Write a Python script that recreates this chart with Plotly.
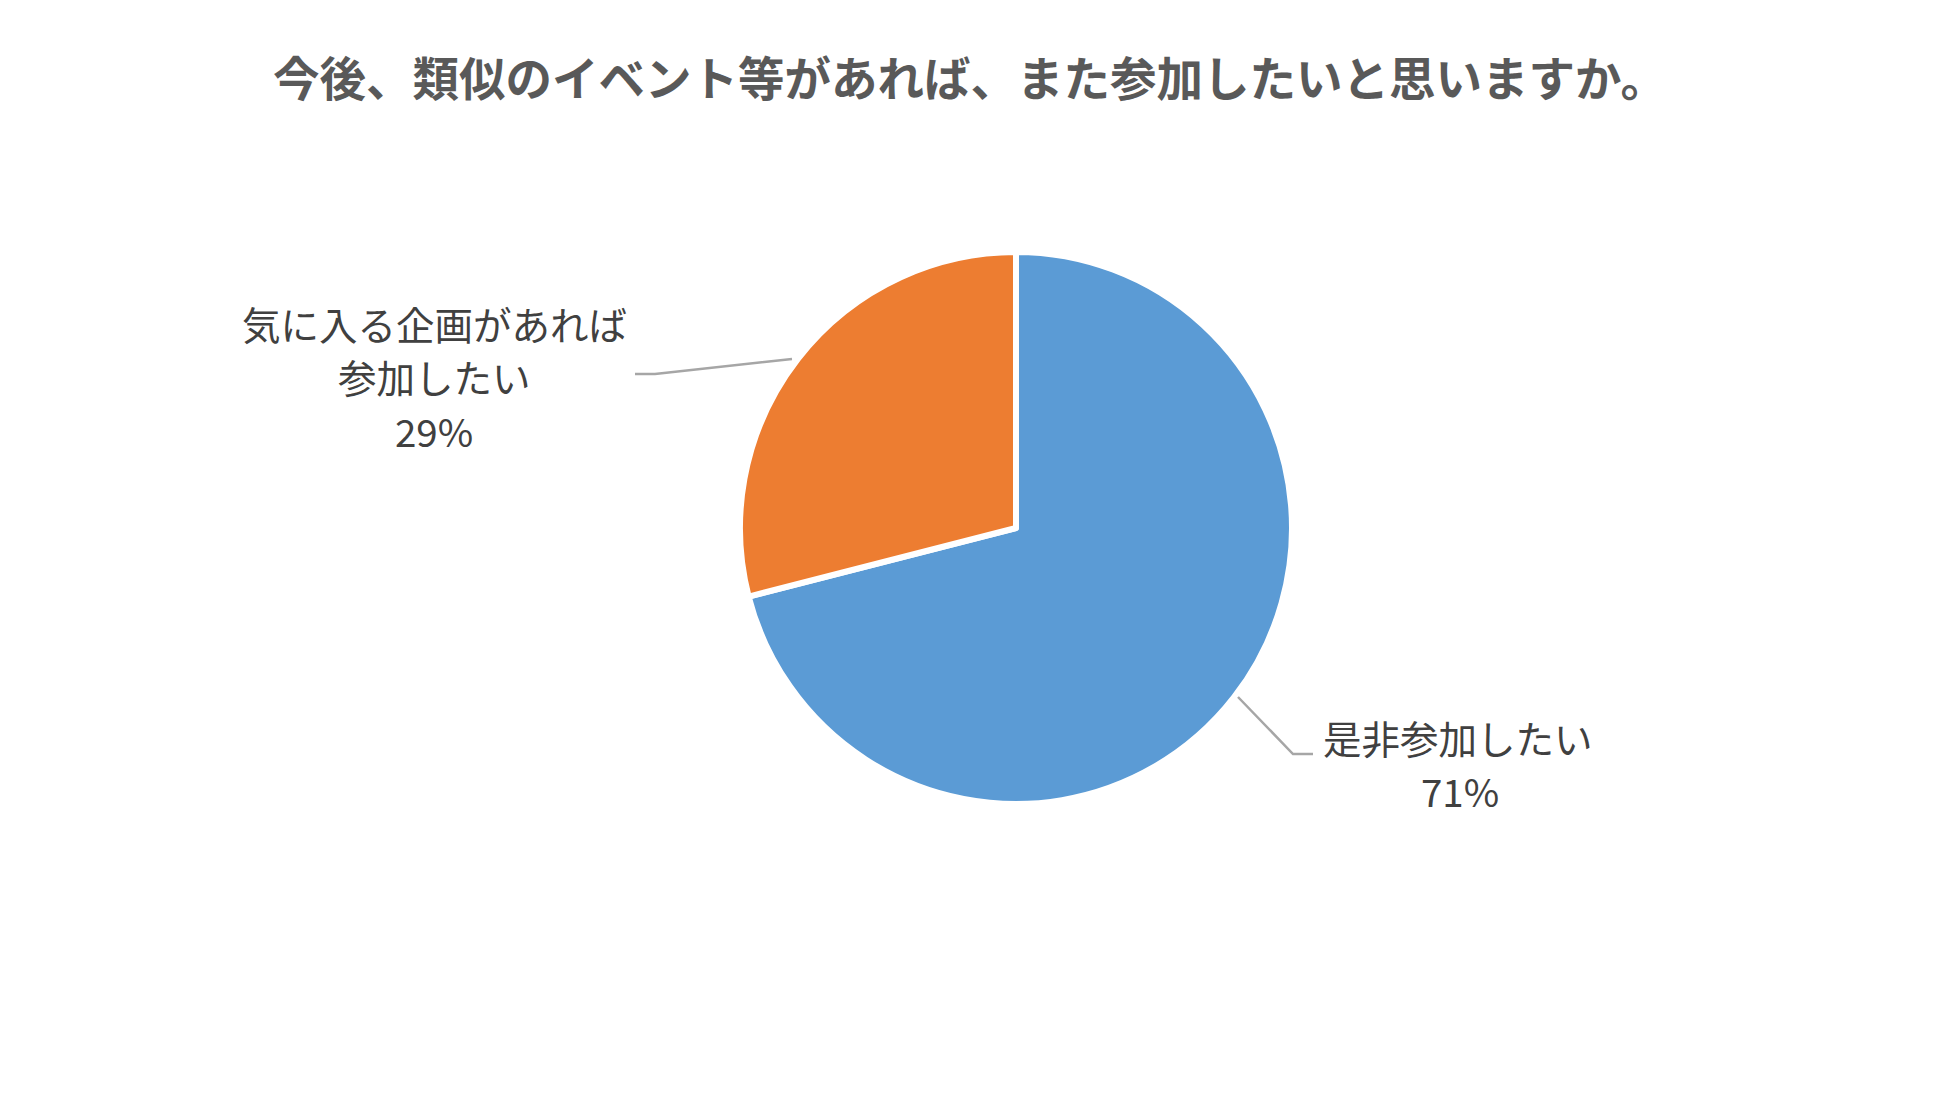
import plotly.graph_objects as go

W, H = 1944, 1119

title_text = "今後、類似のイベント等があれば、また参加したいと思いますか。"
categories = ["是非参加したい", "気に入る企画があれば参加したい"]
values = [71, 29]
colors = ["#5B9BD5", "#ED7D31"]
label_lines = [["是非参加したい", "71%"], ["気に入る企画があれば", "参加したい", "29%"]]

# pie geometry in pixels
cx, cy, r = 1016, 528, 276

def px(x):
    return x / W

def py(y):
    return 1 - y / H

fig = go.Figure()
fig.add_trace(go.Pie(
    labels=categories,
    values=values,
    sort=False,
    direction="clockwise",
    rotation=0,
    marker=dict(colors=colors, line=dict(color="white", width=6)),
    textinfo="none",
    hoverinfo="label+percent",
    showlegend=False,
    domain=dict(x=[px(cx - r), px(cx + r)], y=[py(cy + r), py(cy - r)]),
))

font_family = "Noto Sans CJK JP, Noto Sans, sans-serif"
anns = []
blue_pos = [(1458, 737), (1460, 790)]
for txt, (x, y) in zip(label_lines[0], blue_pos):
    anns.append(dict(x=px(x), y=py(y), xref="paper", yref="paper", text=txt,
                     showarrow=False, xanchor="center", yanchor="middle",
                     font=dict(size=38.5, color="#404040", family=font_family)))
orange_pos = [(434, 323), (434, 376), (434, 430)]
for txt, (x, y) in zip(label_lines[1], orange_pos):
    anns.append(dict(x=px(x), y=py(y), xref="paper", yref="paper", text=txt,
                     showarrow=False, xanchor="center", yanchor="middle",
                     font=dict(size=38.5, color="#404040", family=font_family)))

anns.append(dict(x=px(970), y=py(76), xref="paper", yref="paper", text="<b>" + title_text + "</b>",
                 showarrow=False, xanchor="center", yanchor="middle",
                 font=dict(size=46.5, color="#595959", family=font_family)))

line_style = dict(color="#A6A6A6", width=2.5)
shapes = [
    dict(type="path", xref="paper", yref="paper",
         path=f"M {px(1238)},{py(697)} L {px(1293)},{py(754)} L {px(1313)},{py(754)}",
         line=line_style),
    dict(type="path", xref="paper", yref="paper",
         path=f"M {px(635)},{py(374)} L {px(655)},{py(374)} L {px(792)},{py(359)}",
         line=line_style),
]

fig.update_layout(
    width=W, height=H,
    margin=dict(l=0, r=0, t=0, b=0),
    paper_bgcolor="white",
    plot_bgcolor="white",
    annotations=anns,
    shapes=shapes,
)

fig.write_html("out.html", config={"displayModeBar": False},
               post_script="document.body.style.margin='0';document.body.style.overflow='hidden';")
